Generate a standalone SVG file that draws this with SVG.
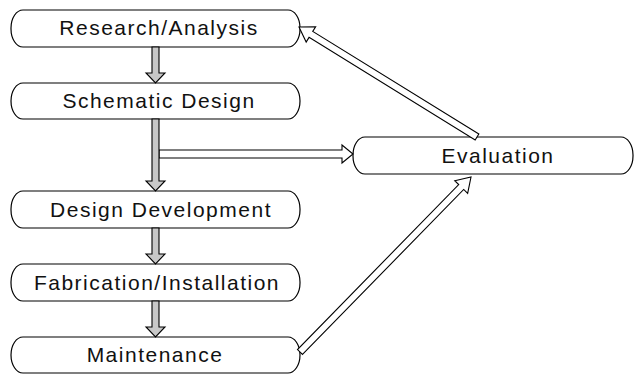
<svg xmlns="http://www.w3.org/2000/svg" width="634" height="375" viewBox="0 0 634 375">
<style>
.box{fill:#fff;stroke:#000;stroke-width:1.2}
.lbl{font-family:"Liberation Sans",Arial,sans-serif;font-size:21px;letter-spacing:1.5px;fill:#111;text-anchor:middle}
.ga{fill:#c8c8c8;stroke:#000;stroke-width:1.1;stroke-linejoin:miter}
.wa{fill:#fff;stroke:#000;stroke-width:1.1;stroke-linejoin:miter}
</style>
<rect width="634" height="375" fill="#fff"/>
<g id="node-research"><rect class="box" x="11" y="10" width="289" height="37" rx="12" ry="18"/><text class="lbl" x="159" y="34.5">Research/Analysis</text></g>
<g id="node-schematic"><rect class="box" x="11" y="83" width="289" height="36" rx="12" ry="18"/><text class="lbl" x="159" y="108">Schematic Design</text></g>
<g id="node-development"><rect class="box" x="11" y="191" width="289" height="37" rx="12" ry="18"/><text class="lbl" x="161" y="216.5">Design Development</text></g>
<g id="node-fabrication"><rect class="box" x="11" y="264" width="289" height="37" rx="12" ry="18"/><text class="lbl" x="157" y="290">Fabrication/Installation</text></g>
<g id="node-maintenance"><rect class="box" x="11" y="337" width="289" height="36" rx="12" ry="18"/><text class="lbl" x="155" y="362">Maintenance</text></g>
<g id="node-evaluation"><rect class="box" x="353" y="137" width="280" height="37" rx="12" ry="18"/><text class="lbl" x="498" y="163">Evaluation</text></g>
<g id="connectors">
<polygon class="wa" points="159,150 342,150 342,145 353,154 342,163 342,158 159,158"/>
<polygon class="ga" points="152,47 159,47 159,73 165,73 155.5,83 146,73 152,73"/>
<polygon class="ga" points="152,119 159,119 159,181 165,181 155.5,191 146,181 152,181"/>
<polygon class="ga" points="152,228 159,228 159,254 165,254 155.5,264 146,254 152,254"/>
<polygon class="ga" points="152,301 159,301 159,327 165,327 155.5,337 146,327 152,327"/>
<polygon class="wa" points="478.84,134.02 312.74,31.42 315.63,26.74 299,27 306.17,42.06 309.06,37.38 475.16,139.98"/>
<polygon class="wa" points="302.5,354.45 463.71,189.46 467.65,193.3 471,177 454.77,180.72 458.71,184.56 297.5,349.55"/>
</g>
</svg>
